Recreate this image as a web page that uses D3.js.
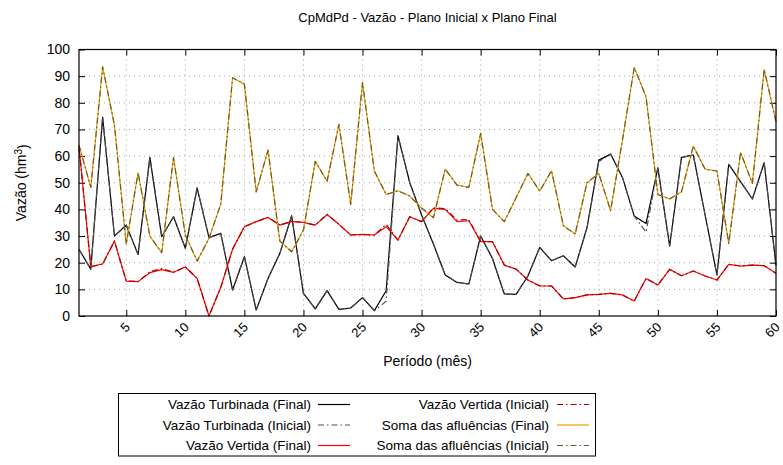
<!DOCTYPE html>
<html>
<head>
<meta charset="utf-8">
<script src="https://cdn.jsdelivr.net/npm/d3@7"></script>
<style>
  body { margin: 0; background: #fff; }
  svg { font-family: "Liberation Sans", Arial, sans-serif; }
</style>
</head>
<body>
<div id="chart"></div>
<script>
// Meses do horizonte
const months = d3.range(1, 61);

const turbFinal = [25, 17.6, 74.6, 30, 34.1, 23.1, 59.5, 29.75, 37.25, 25.4,
    48.1, 29.4, 31, 9.75, 22.25, 2.25, 14.1, 23.5, 37.6, 8.5,
    2.7, 9.5, 2.5, 3, 6.9, 2, 9.5, 67.6, 50, 37.9,
    27, 15.4, 12.6, 12, 30, 21.6, 8.25, 8.1, 15, 25.75,
    20.75, 22.6, 18.4, 33.1, 58.5, 60.75, 52, 37.5, 34.75, 55.6,
    26.25, 59.5, 60.4, 37.9, 15.4, 56.9, 50.4, 43.9, 57.5, 19];

const turbInicial = [25, 17.6, 74.6, 30, 34.1, 23.1, 59.5, 29.75, 37.25, 25.4,
    48.1, 29.4, 31, 9.75, 22.25, 2.25, 14.1, 23.5, 37.6, 8.5,
    2.7, 9.5, 2.5, 3, 6.9, 2, 5.5, 67.6, 50, 37.9,
    27, 15.4, 12.6, 12, 30, 21.6, 8.25, 8.1, 15, 25.75,
    20.75, 22.6, 18.4, 33.1, 58, 60.75, 52, 37.5, 31.5, 55.6,
    26.25, 59.5, 60.4, 37.9, 15.4, 56.9, 50.4, 43.9, 57.5, 19];

const vertFinal = [63.5, 18.5, 19.5, 28.1, 13.1, 12.9, 16.25, 17.4, 16.4, 18.4,
    14.1, 0, 10.75, 25.1, 33.5, 35.4, 37, 34.1, 35.5, 35.1,
    34.1, 38.1, 34.4, 30.4, 30.6, 30.4, 33.5, 28.5, 37.25, 35.4,
    40.4, 40, 35.4, 35.75, 27.9, 27.9, 19.1, 17.6, 13.5, 11.25,
    11.25, 6.4, 6.9, 7.9, 8.1, 8.5, 7.9, 5.6, 14.1, 11.6,
    17.5, 15.1, 16.9, 15, 13.5, 19.4, 18.75, 19.1, 18.9, 16];

const vertInicial = [63.5, 18.5, 19.5, 28.1, 13.1, 12.9, 16.6, 17.8, 16.4, 18.4,
    14.1, 0, 10.75, 25.1, 33.5, 35.4, 37, 34.1, 35.5, 35.1,
    34.1, 38.1, 34.4, 30.4, 30.6, 30.4, 34.4, 28.5, 37.25, 35.4,
    40.6, 40.3, 36, 36.2, 27.9, 27.9, 19.1, 17.6, 13.5, 11.25,
    11.25, 6.4, 6.9, 7.9, 8.1, 8.5, 7.9, 5.6, 14.1, 11.6,
    17.5, 15.1, 16.9, 15, 13.5, 19.4, 18.75, 19.1, 18.9, 16];

const somaFinal = [64.1, 48.25, 93.5, 71.6, 27, 53.75, 30, 23.75, 59.4, 30.4,
    20.6, 29.1, 42, 89.4, 87, 46.6, 62.25, 28.1, 24.1, 32.25,
    58, 50.6, 71.9, 41.9, 87.6, 54.4, 45.6, 47, 45, 40.5,
    36.9, 55.1, 49.1, 48.25, 68.5, 40, 35.4, 44.4, 53.5, 46.9,
    54.5, 33.9, 30.75, 50, 53.5, 39.5, 66, 93.25, 82.25, 45.6,
    43.9, 46.6, 63.75, 55.1, 54.4, 27.25, 61.4, 49.75, 92.5, 72.9];

const somaInicial = [64.1, 48.25, 93.5, 71.6, 27, 53.75, 30, 23.75, 59.4, 30.4,
    20.6, 29.1, 42, 89.4, 87, 46.6, 62.25, 28.1, 24.1, 32.25,
    58, 50.6, 71.9, 41.9, 87.6, 54.4, 45.6, 47, 45, 40.5,
    36.9, 55.1, 49.1, 48.25, 68.5, 40, 35.4, 44.4, 53.5, 46.9,
    54.5, 33.9, 30.75, 50, 53.5, 39.5, 66, 93.25, 82.25, 45.6,
    43.9, 46.6, 63.75, 55.1, 54.4, 27.25, 61.4, 49.75, 92.5, 72.9];

const xTicks = [5, 10, 15, 20, 25, 30, 35, 40, 45, 50, 55, 60];
const yTicks = [0, 10, 20, 30, 40, 50, 60, 70, 80, 90, 100];

// Series na ordem do gnuplot (a ultima fica por cima)
const series = [
    { name: "Vazão Turbinada (Final)",     values: turbFinal,   color: "#000000", dash: null },
    { name: "Vazão Turbinada (Inicial)",   values: turbInicial, color: "#505050", dash: "6,3,1.5,3" },
    { name: "Vazão Vertida (Final)",       values: vertFinal,   color: "#ff0000", dash: null },
    { name: "Vazão Vertida (Inicial)",     values: vertInicial, color: "#b00000", dash: "6,3,1.5,3" },
    { name: "Soma das afluências (Final)", values: somaFinal,   color: "#e69f00", dash: null },
    { name: "Soma das afluências (Inicial)", values: somaInicial, color: "#6b5a30", dash: "6,3,1.5,3" }
];

const W = 783, H = 465;
const margin = { top: 49.5, right: 7, bottom: 149, left: 79 };
const width = W - margin.left - margin.right,
      height = H - margin.top - margin.bottom;

const svg = d3.select("#chart")
    .append("svg")
    .attr("width", W)
    .attr("height", H);

const g = svg.append("g")
    .attr("transform", `translate(${margin.left},${margin.top})`);

const xScale = d3.scaleLinear().domain([1, 60]).range([0, width]);
const yScale = d3.scaleLinear().domain([0, 100]).range([height, 0]);

// Grade pontilhada
g.append("g")
    .selectAll("line")
    .data(yTicks.filter(d => d > 0 && d < 100))
    .join("line")
    .attr("x1", 0).attr("x2", width)
    .attr("y1", d => yScale(d)).attr("y2", d => yScale(d))
    .attr("stroke", "#a0a0a0")
    .attr("stroke-width", 1)
    .attr("stroke-dasharray", "1,4");

g.append("g")
    .selectAll("line")
    .data(xTicks.filter(d => d < 60))
    .join("line")
    .attr("x1", d => xScale(d)).attr("x2", d => xScale(d))
    .attr("y1", 0).attr("y2", height)
    .attr("stroke", "#a0a0a0")
    .attr("stroke-width", 1)
    .attr("stroke-dasharray", "1,4");

// Eixos (ticks para dentro, espelhados)
const axisStyle = sel => {
    sel.select(".domain").remove();
    sel.selectAll("line").attr("stroke", "#000");
    sel.selectAll("text").attr("fill", "#000");
};

g.append("g")
    .attr("transform", `translate(0,${height})`)
    .call(d3.axisBottom(xScale).tickValues(xTicks).tickSize(-6))
    .call(axisStyle)
    .selectAll("text")
    .style("font-size", "13px")
    .style("text-anchor", "end")
    .attr("x", 0)
    .attr("y", 0)
    .attr("dy", 0)
    .attr("transform", "translate(4,12) rotate(-45)");

g.append("g")
    .call(d3.axisTop(xScale).tickValues(xTicks).tickSize(-6).tickFormat(""))
    .call(axisStyle);

g.append("g")
    .call(d3.axisLeft(yScale).tickValues(yTicks).tickSize(-6).tickPadding(9))
    .call(axisStyle)
    .selectAll("text")
    .style("font-size", "14px");

g.append("g")
    .attr("transform", `translate(${width},0)`)
    .call(d3.axisRight(yScale).tickValues(yTicks).tickSize(-6).tickFormat(""))
    .call(axisStyle);

// Linhas
const line = d3.line()
    .x((d, i) => xScale(months[i]))
    .y(d => yScale(d));

series.forEach(s => {
    g.append("path")
        .datum(s.values)
        .attr("fill", "none")
        .attr("stroke", s.color)
        .attr("stroke-width", 1.2)
        .attr("stroke-dasharray", s.dash)
        .attr("stroke-linejoin", "round")
        .attr("d", line);
});

// Moldura
g.append("rect")
    .attr("width", width)
    .attr("height", height)
    .attr("fill", "none")
    .attr("stroke", "#000")
    .attr("stroke-width", 1.2);

// Titulo e rotulos
svg.append("text")
    .attr("x", margin.left + width / 2)
    .attr("y", 22)
    .attr("text-anchor", "middle")
    .style("font-size", "13px")
    .text("CpMdPd - Vazão - Plano Inicial x Plano Final");

svg.append("text")
    .attr("x", margin.left + width / 2)
    .attr("y", 366)
    .attr("text-anchor", "middle")
    .style("font-size", "14px")
    .text("Período (mês)");

const yLabel = svg.append("text")
    .attr("transform", `translate(26,${margin.top + height / 2}) rotate(-90)`)
    .attr("text-anchor", "middle")
    .style("font-size", "14px");
yLabel.append("tspan").text("Vazão (hm");
yLabel.append("tspan").attr("dy", "-0.45em").style("font-size", "10px").text("3");
yLabel.append("tspan").attr("dy", "0.45em").text(")");

// Legenda
const legend = svg.append("g");
legend.append("rect")
    .attr("x", 118.5).attr("y", 393.5)
    .attr("width", 477).attr("height", 62.5)
    .attr("fill", "#fff")
    .attr("stroke", "#000")
    .attr("stroke-width", 1);

const cols = [{ textX: 311, lineX: 318 }, { textX: 549, lineX: 557 }];
const rowY = [404.5, 425, 445.5];

series.forEach((s, i) => {
    const c = cols[Math.floor(i / 3)], y = rowY[i % 3];
    legend.append("text")
        .attr("x", c.textX)
        .attr("y", y)
        .attr("dy", "0.35em")
        .attr("text-anchor", "end")
        .style("font-size", "13.5px")
        .text(s.name);
    legend.append("line")
        .attr("x1", c.lineX).attr("x2", c.lineX + 32)
        .attr("y1", y).attr("y2", y)
        .attr("stroke", s.color)
        .attr("stroke-width", 1.2)
        .attr("stroke-dasharray", s.dash);
});
</script>
</body>
</html>
